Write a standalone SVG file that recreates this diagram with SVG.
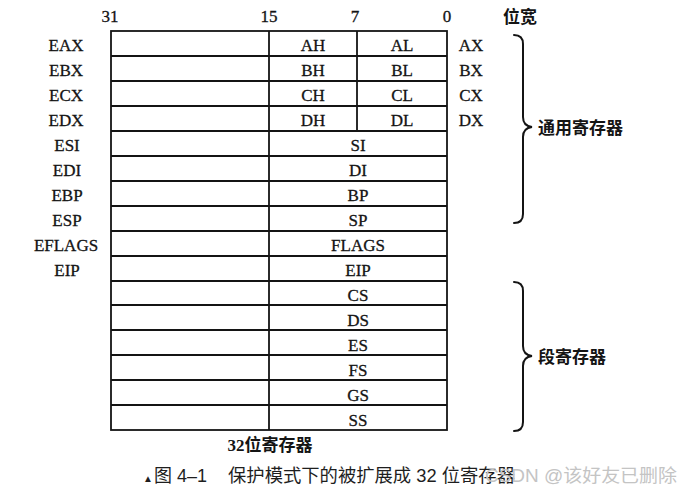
<svg xmlns="http://www.w3.org/2000/svg" width="693" height="500" viewBox="0 0 693 500">
  <style>
    .grid { fill: none; stroke: #141414; stroke-width: 1.8; }
    .reg { font-family: "Liberation Serif", "Times New Roman", serif; font-size: 17px; fill: #141414; stroke: #141414; stroke-width: 0.3; }
    .mid { text-anchor: middle; }
    .cjk { font-family: "Liberation Serif", "Noto Sans CJK SC", serif; font-weight: bold; font-size: 17px; fill: #141414; }
    .cap { font-family: "Liberation Sans", "Noto Sans CJK SC", sans-serif; font-size: 18px; fill: #1e1e1e; }
    .mark { font-family: "Liberation Sans", "Noto Sans CJK SC", sans-serif; font-size: 18px; fill: #c4c4c4; }
    .brace { fill: none; stroke: #141414; stroke-width: 2; stroke-linecap: round; }
  </style>

  <rect width="693" height="500" fill="#ffffff"/>

  <!-- bit positions -->
  <g id="bit-scale">
    <text class="reg mid" x="110" y="22" font-size="16">31</text>
    <text class="reg mid" x="269" y="22" font-size="16">15</text>
    <text class="reg mid" x="355" y="22" font-size="16">7</text>
    <text class="reg mid" x="447" y="22" font-size="16">0</text>
    <text class="cjk mid" x="520" y="23">位宽</text>
  </g>

  <!-- register table grid -->
  <g id="table">
    <rect class="grid" x="111" y="31" width="336" height="399"/>
    <line class="grid" x1="269" y1="31" x2="269" y2="430"/>
    <line class="grid" x1="357" y1="31" x2="357" y2="131"/>
    <path class="grid" d="M111,56 H447 M111,81 H447 M111,106 H447 M111,131 H447 M111,156 H447 M111,181 H447 M111,206 H447 M111,231 H447 M111,256 H447 M111,281 H447 M111,305 H447 M111,330 H447 M111,355 H447 M111,380 H447 M111,405 H447"/>
  </g>

  <!-- 32-bit register names -->
  <g id="reg32-names" class="reg mid">
    <text x="66" y="51">EAX</text>
    <text x="66" y="76">EBX</text>
    <text x="66" y="101">ECX</text>
    <text x="66" y="126">EDX</text>
    <text x="67" y="151">ESI</text>
    <text x="67" y="176">EDI</text>
    <text x="67" y="201">EBP</text>
    <text x="67" y="226">ESP</text>
    <text x="66" y="251">EFLAGS</text>
    <text x="67" y="276">EIP</text>
  </g>

  <!-- 8-bit and 16-bit parts -->
  <g id="reg-parts" class="reg mid">
    <text x="313" y="51">AH</text><text x="402" y="51">AL</text>
    <text x="313" y="76">BH</text><text x="402" y="76">BL</text>
    <text x="313" y="101">CH</text><text x="402" y="101">CL</text>
    <text x="313" y="126">DH</text><text x="402" y="126">DL</text>
    <text x="358" y="151">SI</text>
    <text x="358" y="176">DI</text>
    <text x="358" y="201">BP</text>
    <text x="358" y="226">SP</text>
    <text x="358" y="251">FLAGS</text>
    <text x="358" y="276">EIP</text>
    <text x="358" y="301">CS</text>
    <text x="358" y="326">DS</text>
    <text x="358" y="351">ES</text>
    <text x="358" y="376">FS</text>
    <text x="358" y="401">GS</text>
    <text x="358" y="426">SS</text>
  </g>

  <!-- 16-bit register names -->
  <g id="reg16-names" class="reg mid">
    <text x="471" y="51">AX</text>
    <text x="471" y="76">BX</text>
    <text x="471" y="101">CX</text>
    <text x="471" y="126">DX</text>
  </g>

  <!-- group braces -->
  <g id="connectors">
    <path class="brace" d="M514,35 Q523,35 523,44 L523,117 Q523,126 532,127 Q523,128 523,137 L523,214 Q523,223 514,223"/>
    <path class="brace" d="M514,282 Q523,282 523,291 L523,346 Q523,355 532,356 Q523,357 523,366 L523,422 Q523,431 514,431"/>
  </g>

  <g id="general-label">
    <text class="cjk" x="538" y="134">通用寄存器</text>
  </g>
  <g id="segment-label">
    <text class="cjk" x="538" y="363">段寄存器</text>
  </g>
  <g id="table-title">
    <text class="cjk mid" x="270" y="451">32位寄存器</text>
  </g>

  <!-- caption -->
  <g id="caption">
    <text class="cap" x="143" y="482"><tspan font-size="10">▲</tspan><tspan x="154">图 4–1</tspan></text>
    <text class="cap" x="228" y="482" textLength="287" lengthAdjust="spacingAndGlyphs">保护模式下的被扩展成 32 位寄存器</text>
    <text class="mark" x="485" y="482" textLength="192" lengthAdjust="spacingAndGlyphs">CSDN @该好友已删除</text>
  </g>
</svg>
